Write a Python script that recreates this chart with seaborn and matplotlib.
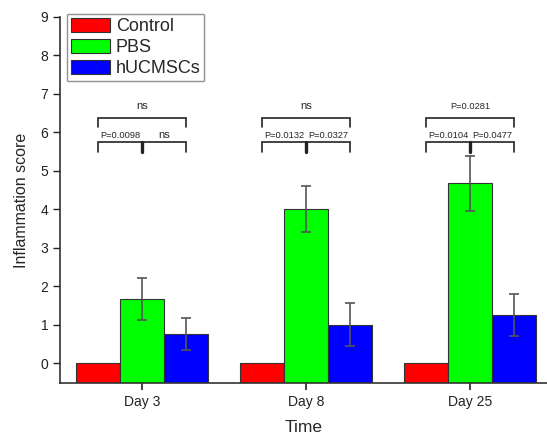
import numpy as np
import pandas as pd
import matplotlib
matplotlib.use("Agg")
import matplotlib.pyplot as plt
import seaborn as sns
from matplotlib.patches import Patch

# ---- data ----
days = ["Day 3", "Day 8", "Day 25"]
groups = ["Control", "PBS", "hUCMSCs"]
control_mean = [0.0, 0.0, 0.0]
pbs_mean = [1.67, 4.0, 4.67]
huc_mean = [0.75, 1.0, 1.25]
control_sd = [0.0, 0.0, 0.0]
pbs_sd = [0.55, 0.6, 0.72]
huc_sd = [0.41, 0.57, 0.55]
# significance labels: (left pair, right pair, outer pair)
p_left = ["P=0.0098", "P=0.0132", "P=0.0104"]
p_right = ["ns", "P=0.0327", "P=0.0477"]
p_outer = ["ns", "ns", "P=0.0281"]
palette = ["#FF0000", "#00FF00", "#0000FF"]

means = {"Control": control_mean, "PBS": pbs_mean, "hUCMSCs": huc_mean}
sds = {"Control": control_sd, "PBS": pbs_sd, "hUCMSCs": huc_sd}
rows = []
for g in groups:
    for d, m in zip(days, means[g]):
        rows.append({"Time": d, "Group": g, "Score": m})
df = pd.DataFrame(rows)

sns.set_style("ticks")
plt.rcParams["font.family"] = ["Liberation Sans", "DejaVu Sans"]

fig = plt.figure(figsize=(5.47, 4.37), dpi=100)
ax = fig.add_axes([60 / 547, 54 / 437, 1 - 60 / 547, (383 - 17) / 437])

sns.barplot(data=df, x="Time", y="Score", hue="Group", order=days,
            hue_order=groups, palette=palette, width=0.8, errorbar=None,
            edgecolor="#333333", linewidth=0.8, saturation=1, ax=ax, legend=False)

ymin, ymax = -0.52, 9.0
# bars rise from the bottom of the axis
for cont, g in zip(ax.containers, groups):
    for bar, m, s in zip(cont, means[g], sds[g]):
        bar.set_y(ymin)
        bar.set_height(m - ymin)
        if s > 0:
            cx = bar.get_x() + bar.get_width() / 2
            ax.errorbar(cx, m, yerr=s, fmt="none", ecolor="#555555",
                        elinewidth=1.2, capsize=3.5, capthick=1.2, zorder=5)

ax.set_ylim(ymin, ymax)
ax.set_xlim(-0.5, 2.47)
ax.set_yticks(range(0, 10))
ax.tick_params(axis="y", direction="out", length=5, pad=3.5, width=1, labelsize=10, colors="#222222")
ax.tick_params(axis="x", direction="out", length=5, width=1.2, labelsize=10, colors="#222222")
for sp in ["top", "right"]:
    ax.spines[sp].set_visible(False)
for sp in ["left", "bottom"]:
    ax.spines[sp].set_color("#333333")
    ax.spines[sp].set_linewidth(1.2)
ax.set_xlabel("Time", fontsize=12.5, labelpad=8)
ax.set_ylabel("Inflammation score", fontsize=11.5, labelpad=8)

# significance brackets
off = 0.8 / 3
lo_y, lo_leg = 5.76, 5.49
hi_y, hi_leg = 6.37, 6.14
for i in range(len(days)):
    xl, xm, xr = i - off, i, i + off
    ax.plot([xl, xl, xr, xr], [lo_leg, lo_y, lo_y, lo_leg], color="#222222", lw=1.2,
            solid_joinstyle="miter")
    ax.plot([xm, xm], [lo_y, lo_leg], color="#222222", lw=2.4)
    ax.plot([xl, xl, xr, xr], [hi_leg, hi_y, hi_y, hi_leg], color="#222222", lw=1.2,
            solid_joinstyle="miter")
    ax.text((xl + xm) / 2, lo_y + 0.05, p_left[i], ha="center", va="bottom", fontsize=6.7)
    ax.text((xm + xr) / 2, lo_y + 0.05, p_right[i], ha="center", va="bottom",
            fontsize=6.7 if p_right[i].startswith("P") else 8)
    ax.text(i, hi_y + 0.18, p_outer[i], ha="center", va="bottom",
            fontsize=6.7 if p_outer[i].startswith("P") else 8)

handles = [Patch(facecolor=c, edgecolor="#333333", linewidth=0.8) for c in palette]
leg = ax.legend(handles, groups, loc="upper left", bbox_to_anchor=(67 / 547, 1 - 14 / 437),
                bbox_transform=fig.transFigure, borderaxespad=0, fontsize=13,
                handlelength=2.2, handleheight=0.85, handletextpad=0.3,
                labelspacing=0.2, borderpad=0.2, fancybox=False, frameon=True)
leg.get_frame().set_edgecolor("#777777")
leg.get_frame().set_linewidth(1.0)

fig.savefig("out.png", dpi=100)
